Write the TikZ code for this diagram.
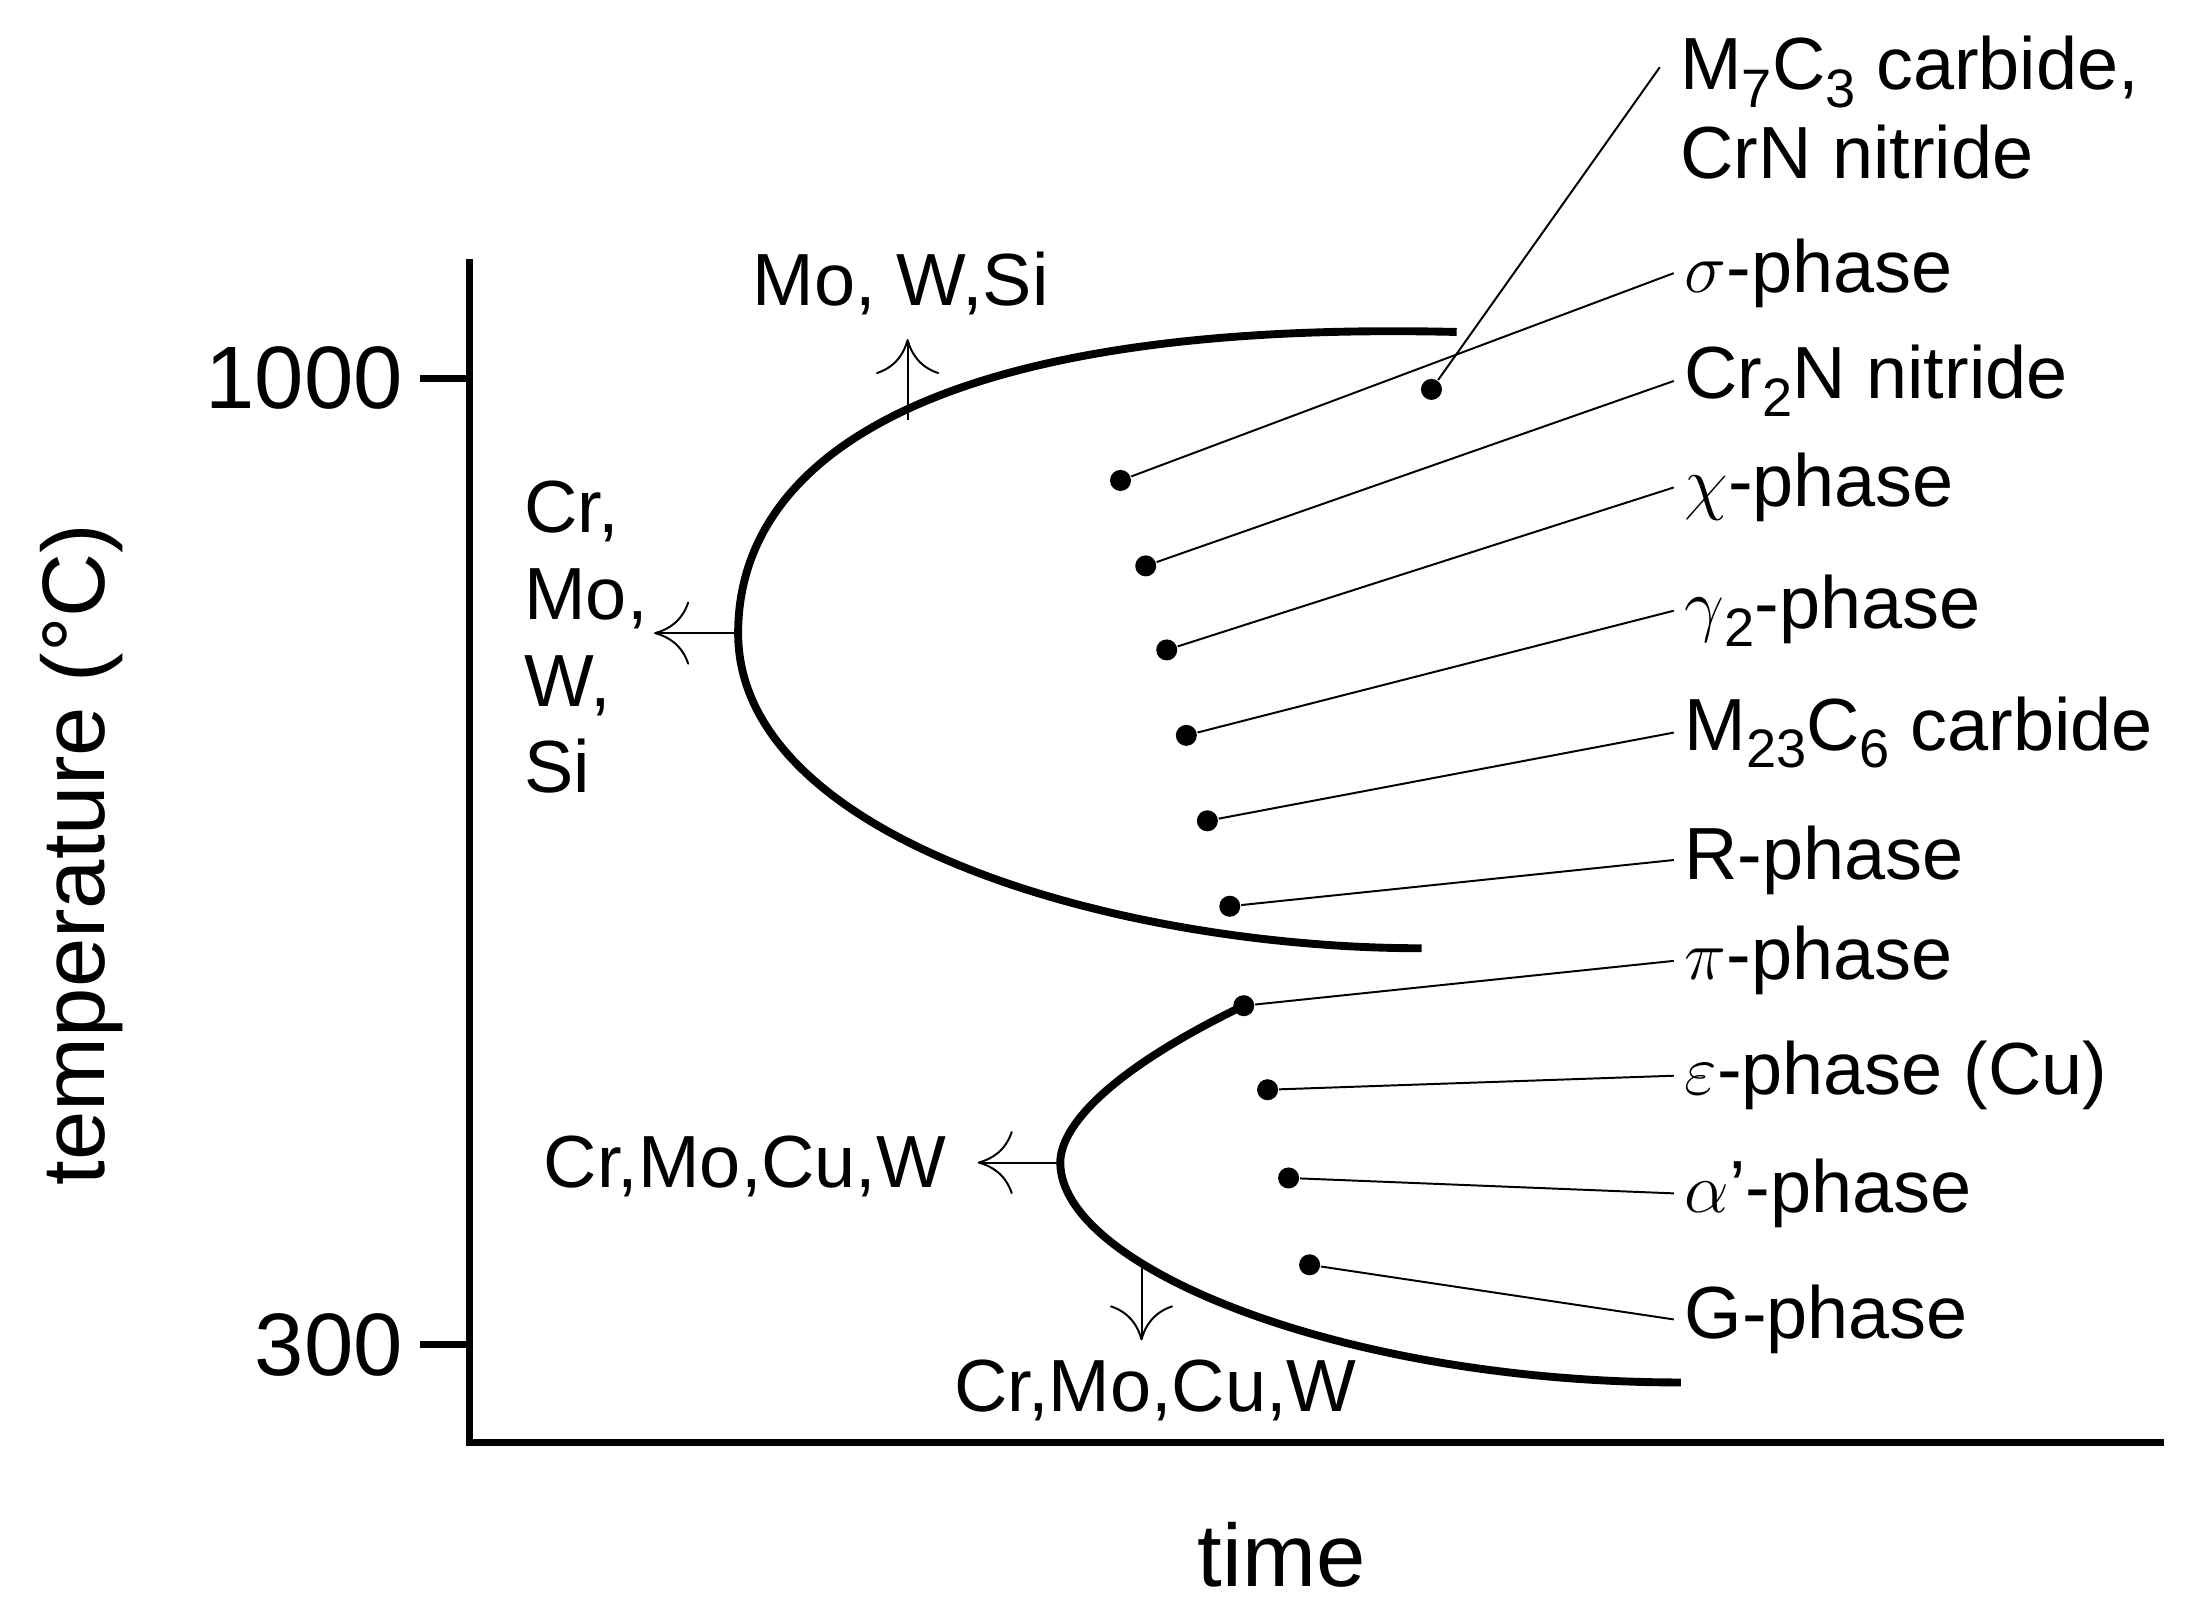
\documentclass[tikz,border=0pt]{standalone}
\usepackage{fontspec}
\setmainfont{Liberation Sans}
\usetikzlibrary{arrows.meta}
\newcommand{\lowidx}[1]{\raisebox{-0.45ex}{\fontsize{11}{12}\selectfont #1}}
\begin{document}
\begin{tikzpicture}[x=0.01cm, y=-0.01cm, font=\fontsize{15}{18}\selectfont,
  dot/.style={circle, fill, inner sep=0pt, minimum size=0.15cm},
  lbl/.style={anchor=west, inner sep=2pt},
  big/.style={font=\fontsize{18}{21}\selectfont},
  curve/.style={line width=1.6pt},
  axis/.style={line width=1.4pt},
  elem/.style={-{To[length=2.5mm,width=4.5mm]}, thin}]
  \useasboundingbox (0,0) rectangle (1560,1150);
  % the axes
  \coordinate (top) at (335,185);
  \coordinate (origin) at (335,1030);
  \coordinate (right) at (1545,1030);
  \draw[axis] (top) -- (origin) -- (right);
  \node (t1000) [big, anchor=east] at (300,270) {1000};
  \node (t300) [big, anchor=east] at (300,960) {300};
  \draw[axis] (t1000.east) -- (335,270);
  \draw[axis] (t300.east) -- (335,960);
  \node (ylabel) [big, rotate=90] at (58,610) {temperature (°C)};
  \node (xlabel) [big] at (915,1110) {time};
  % the curves
  \draw[curve] (1040,237) .. controls (660,228) and (527,330) .. (527,452)
    .. controls (527,600) and (800,677) .. (1015,677);
  \draw[curve] (890,717) .. controls (790,765) and (757,805) .. (757,830)
    .. controls (757,905) and (960,987) .. (1200,987);
  % the element arrows
  \coordinate (up start) at (648,300);
  \node (up label) at (643,202) {Mo, W,Si};
  \draw[elem] (up start) -- ++(0,-58);
  \coordinate (nose) at (527,452);
  \node (left label) [anchor=west, align=left, font=\fontsize{15}{17.6}\selectfont] at (362,455) {Cr,\\Mo,\\W,\\Si};
  \draw[elem] (nose) -- ++(-60,0);
  \coordinate (nose 2) at (757,830);
  \node (left label 2) [anchor=east] at (688,833) {Cr,Mo,Cu,W};
  \draw[elem] (nose 2) -- (698,830);
  \coordinate (down start) at (815,900);
  \node (down label) at (825,993) {Cr,Mo,Cu,W};
  \draw[elem] (down start) -- ++(0,57);
  % the phases
  \node (M7C3) [lbl, anchor=north west, align=left] at (1192,18) {M\lowidx{7}C\lowidx{3} carbide,\\CrN nitride};
  \node (d M7C3) [dot] at (1022,278) {};
  \draw (d M7C3) -- (1185,48);
  \foreach \name/\dx/\dy/\ly/\txt in {
      sigma/800/343/195/{$\sigma$-phase},
      Cr2N/818/404/272/{Cr\lowidx{2}N nitride},
      chi/833/464/348/{$\chi$-phase},
      gamma/847/525/436/{$\gamma$\lowidx{2}-phase},
      M23C6/862/586/523/{M\lowidx{23}C\lowidx{6} carbide},
      R/878/647/614/{R-phase},
      pi/888/718/686/{$\pi$-phase},
      eps/905/778/768/{$\varepsilon$-phase (Cu)},
      alpha/920/841/852/{$\alpha$'-phase},
      G/935/903/942/{G-phase}} {
    \node (\name) [lbl] at (1195,\ly) {\txt};
    \node (d \name) [dot] at (\dx,\dy) {};
    \draw (d \name) -- (\name.west);
  }
\end{tikzpicture}
\end{document}
